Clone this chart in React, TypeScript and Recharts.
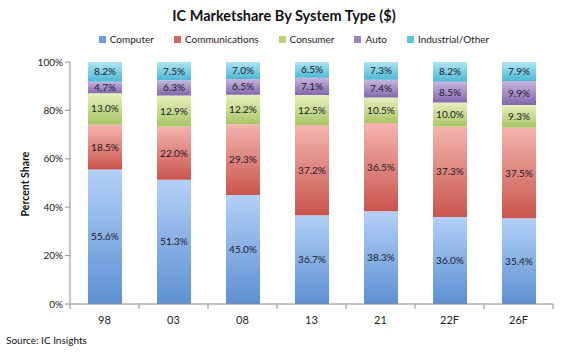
import React from "react";
import { Bar, BarChart, LabelList, Legend, Text, XAxis, YAxis } from "recharts";

const years = ["98", "03", "08", "13", "21", "22F", "26F"];
const computer = [55.6, 51.3, 45.0, 36.7, 38.3, 36.0, 35.4];
const communications = [18.5, 22.0, 29.3, 37.2, 36.5, 37.3, 37.5];
const consumer = [13.0, 12.9, 12.2, 12.5, 10.5, 10.0, 9.3];
const auto = [4.7, 6.3, 6.5, 7.1, 7.4, 8.5, 9.9];
const industrial = [8.2, 7.5, 7.0, 6.5, 7.3, 8.2, 7.9];
const yTicks = [0, 20, 40, 60, 80, 100];

const series = [
  { key: "computer", name: "Computer", top: "#b3d0f7", bottom: "#5d90d2", swatch: "#6d9de0" },
  { key: "communications", name: "Communications", top: "#f4b4ae", bottom: "#c9554d", swatch: "#d9635c" },
  { key: "consumer", name: "Consumer", top: "#e6f1bd", bottom: "#a9c565", swatch: "#b9d27a" },
  { key: "auto", name: "Auto", top: "#c6b6de", bottom: "#8368ad", swatch: "#9a85c0" },
  { key: "industrial", name: "Industrial/Other", top: "#aee6f4", bottom: "#4eb7d6", swatch: "#5fc4e0" },
];

const data = years.map((year, i) => ({
  year,
  computer: computer[i],
  communications: communications[i],
  consumer: consumer[i],
  auto: auto[i],
  industrial: industrial[i],
}));

const font = "Lato, 'Open Sans', sans-serif";
const halfBand = 34.5;

function XTick(props: any) {
  const { x, y, payload, index } = props;
  return (
    <g>
      {index === 0 && <line x1={x - halfBand} y1={y - 8} x2={x - halfBand} y2={y - 3} stroke="#8c8c8c" />}
      <line x1={x + halfBand} y1={y - 8} x2={x + halfBand} y2={y - 3} stroke="#8c8c8c" />
      <text x={x} y={y + 12} textAnchor="middle" fontSize={11} fill="#222" fontFamily={font}>
        {payload.value}
      </text>
    </g>
  );
}

function LegendContent() {
  return (
    <div style={{ display: "flex", justifyContent: "center", gap: 20, fontFamily: font, fontSize: 10, color: "#222", paddingLeft: 22 }}>
      {series.map((s) => (
        <span key={s.key} style={{ display: "flex", alignItems: "center" }}>
          <span style={{ width: 7, height: 7, background: s.swatch, marginRight: 4, display: "inline-block" }} />
          {s.name}
        </span>
      ))}
    </div>
  );
}

export default function App() {
  return (
    <div style={{ position: "absolute", left: 0, top: 0, width: 566, height: 356, background: "#fff" }}>
      <BarChart width={566} height={356} data={data} margin={{ top: 50, right: 13, bottom: 22, left: 30 }} barSize={34}>
        <defs>
          {series.map((s) => (
            <linearGradient key={s.key} id={`g-${s.key}`} x1="0" y1="0" x2="0" y2="1">
              <stop offset="0%" stopColor={s.top} />
              <stop offset="100%" stopColor={s.bottom} />
            </linearGradient>
          ))}
        </defs>
        <text x={284} y={21} textAnchor="middle" fontSize={14.5} fontWeight="bold" fill="#111" fontFamily={font}>
          IC Marketshare By System Type ($)
        </text>
        <Text x={25} y={184} angle={-90} textAnchor="middle" verticalAnchor="middle" fontSize={10.5} fontWeight="bold" fill="#111" fontFamily={font}>
          Percent Share
        </Text>
        <text x={6} y={344} fontSize={10} fill="#111" fontFamily={font}>
          Source: IC Insights
        </text>
        <Legend verticalAlign="top" content={<LegendContent />} wrapperStyle={{ top: 33, left: 0, width: 566 }} />
        <XAxis dataKey="year" height={30} axisLine={{ stroke: "#8c8c8c" }} tickLine={false} tick={<XTick />} interval={0} />
        <YAxis
          width={40}
          domain={[0, 100]}
          ticks={yTicks}
          tickFormatter={(v: number) => `${v}%`}
          axisLine={{ stroke: "#8c8c8c" }}
          tickLine={{ stroke: "#8c8c8c" }}
          tickSize={5}
          tick={{ fontSize: 10, fill: "#222", fontFamily: font }}
        />
        {series.map((s) => (
          <Bar key={s.key} dataKey={s.key} name={s.name} stackId="a" fill={`url(#g-${s.key})`} isAnimationActive={false}>
            <LabelList
              dataKey={s.key}
              position="center"
              formatter={(v: any) => `${Number(v).toFixed(1)}%`}
              style={{ fontSize: 10, fill: "#1a1a2a", fontFamily: font }}
            />
          </Bar>
        ))}
      </BarChart>
    </div>
  );
}
